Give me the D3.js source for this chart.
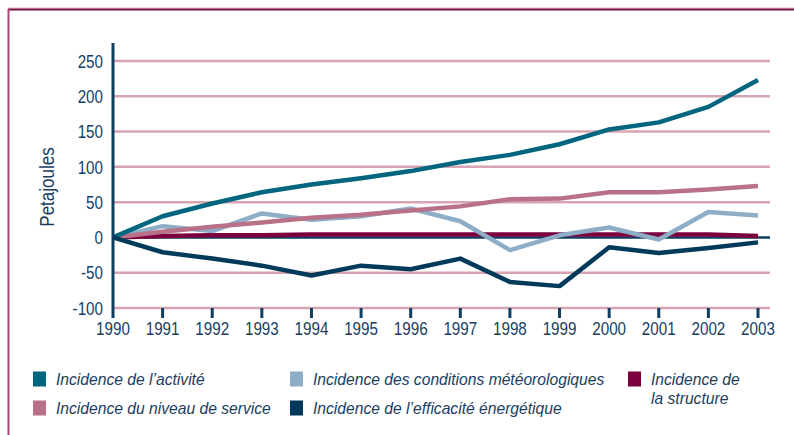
<!DOCTYPE html>
<html>
<head>
<meta charset="utf-8">
<script src="https://cdn.jsdelivr.net/npm/d3@7"></script>
<style>
  body { margin: 0; background: #fff; }
  svg { display: block; }
  text { font-family: "Liberation Sans Narrow", "Liberation Sans", Arial, sans-serif; fill: #1a3d5f; }
</style>
</head>
<body>
<svg id="chart" width="794" height="435"></svg>
<script>
var years = [1990, 1991, 1992, 1993, 1994, 1995, 1996, 1997, 1998, 1999, 2000, 2001, 2002, 2003];

var activite   = [0, 30, 48, 64, 75, 84, 94, 107, 117, 132, 153, 163, 185, 223];
var meteo      = [0, 16, 9, 34, 25, 30, 41, 23, -18, 3, 14, -3, 36, 31];
var service    = [0, 8, 15, 21, 28, 32, 38, 44, 54, 55, 64, 64, 68, 73];
var structure  = [0, 2, 3, 3, 4, 4, 4, 4, 4, 4, 4, 4, 4, 2];
var efficacite = [0, -21, -30, -40, -54, -40, -45, -30, -63, -69, -14, -22, -15, -7];

var yTicks = [-100, -50, 0, 50, 100, 150, 200, 250];

var legendItems = [
  { label: ['Incidence de l\u2019activit\u00e9'], color: '#00667f', col: 0, row: 0 },
  { label: ['Incidence du niveau de service'], color: '#b87186', col: 0, row: 1 },
  { label: ['Incidence des conditions m\u00e9t\u00e9orologiques'], color: '#8eadc7', col: 1, row: 0 },
  { label: ['Incidence de l\u2019efficacit\u00e9 \u00e9nerg\u00e9tique'], color: '#003a5b', col: 1, row: 1 },
  { label: ['Incidence de', 'la structure'], color: '#7b003d', col: 2, row: 0 }
];

var svg = d3.select('#chart'),
    navy = '#0f3f60',
    grid = '#d7a4b2',
    x = d3.scaleLinear().domain([1990, 2003]).range([113, 758]),
    y = d3.scaleLinear().domain([-100, 250]).range([308, 61]);

// squeeze text horizontally (the original uses a condensed face)
function condense(sel, k) {
  sel.each(function() {
    var w = this.getComputedTextLength();
    d3.select(this).attr('textLength', w * k).attr('lengthAdjust', 'spacingAndGlyphs');
  });
}

// frame
svg.append('line').attr('x1', 8).attr('x2', 794).attr('y1', 8).attr('y2', 8)
  .attr('stroke', '#e2b8c6').attr('stroke-width', 1);
svg.append('line').attr('x1', 8).attr('x2', 794).attr('y1', 9.5).attr('y2', 9.5)
  .attr('stroke', '#78103f').attr('stroke-width', 2);
svg.append('line').attr('x1', 8.5).attr('x2', 8.5).attr('y1', 9).attr('y2', 435)
  .attr('stroke', '#a8477a').attr('stroke-width', 2);

// grid
svg.append('g').selectAll('line')
  .data(yTicks.filter(function(d) { return d !== 0; }))
  .enter().append('line')
    .attr('x1', x(1990)).attr('x2', 770)
    .attr('y1', function(d) { return y(d); })
    .attr('y2', function(d) { return y(d); })
    .attr('stroke', grid).attr('stroke-width', 2.5);

// y tick labels
var yLab = svg.append('g').selectAll('text')
  .data(yTicks)
  .enter().append('text')
    .attr('x', 103)
    .attr('y', function(d) { return y(d); })
    .attr('dy', '0.35em')
    .attr('text-anchor', 'end')
    .attr('font-size', 19)
    .text(function(d) { return d; });
condense(yLab, 0.8);

// x ticks + labels
svg.append('g').selectAll('line')
  .data(years.slice(1))
  .enter().append('line')
    .attr('x1', function(d) { return x(d); })
    .attr('x2', function(d) { return x(d); })
    .attr('y1', y(-100)).attr('y2', 318)
    .attr('stroke', navy).attr('stroke-width', 3);

var xLab = svg.append('g').selectAll('text')
  .data(years)
  .enter().append('text')
    .attr('x', function(d) { return x(d); })
    .attr('y', 335)
    .attr('text-anchor', 'middle')
    .attr('font-size', 19)
    .text(function(d) { return d; });
condense(xLab, 0.8);

// y label
var yt = svg.append('text')
  .attr('transform', 'translate(54,187) rotate(-90)')
  .attr('text-anchor', 'middle')
  .attr('font-size', 20)
  .text('Petajoules');
condense(yt, 0.85);

// zero line
svg.append('line').attr('x1', x(1990)).attr('x2', 770)
  .attr('y1', y(0)).attr('y2', y(0))
  .attr('stroke', navy).attr('stroke-width', 2.5);

// series
var line = d3.line()
  .x(function(d, i) { return x(years[i]); })
  .y(function(d) { return y(d); });

var series = [
  { values: structure, color: '#7b003d' },
  { values: meteo, color: '#8eadc7' },
  { values: service, color: '#b87186' },
  { values: activite, color: '#00667f' },
  { values: efficacite, color: '#003a5b' }
];

svg.append('g').selectAll('path')
  .data(series)
  .enter().append('path')
    .attr('d', function(d) { return line(d.values); })
    .attr('fill', 'none')
    .attr('stroke', function(d) { return d.color; })
    .attr('stroke-width', 4.5)
    .attr('stroke-linejoin', 'round');

// y axis line
svg.append('line').attr('x1', x(1990)).attr('x2', x(1990))
  .attr('y1', 43).attr('y2', 318)
  .attr('stroke', navy).attr('stroke-width', 3);

// legend
var colX = [33, 290, 628],
    rowY = [379, 408];

var leg = svg.append('g').selectAll('g')
  .data(legendItems)
  .enter().append('g')
    .attr('transform', function(d) { return 'translate(' + colX[d.col] + ',' + rowY[d.row] + ')'; });

leg.append('rect')
  .attr('x', 0).attr('y', -7.5)
  .attr('width', 13).attr('height', 15)
  .attr('fill', function(d) { return d.color; });

leg.each(function(d) {
  var t = d3.select(this).append('text')
    .attr('font-size', 17)
    .attr('font-style', 'italic');
  d.label.forEach(function(s, i) {
    t.append('tspan').attr('x', 23).attr('y', 6 + i * 19).text(s);
  });
});
condense(leg.selectAll('tspan'), 0.92);
</script>
</body>
</html>
